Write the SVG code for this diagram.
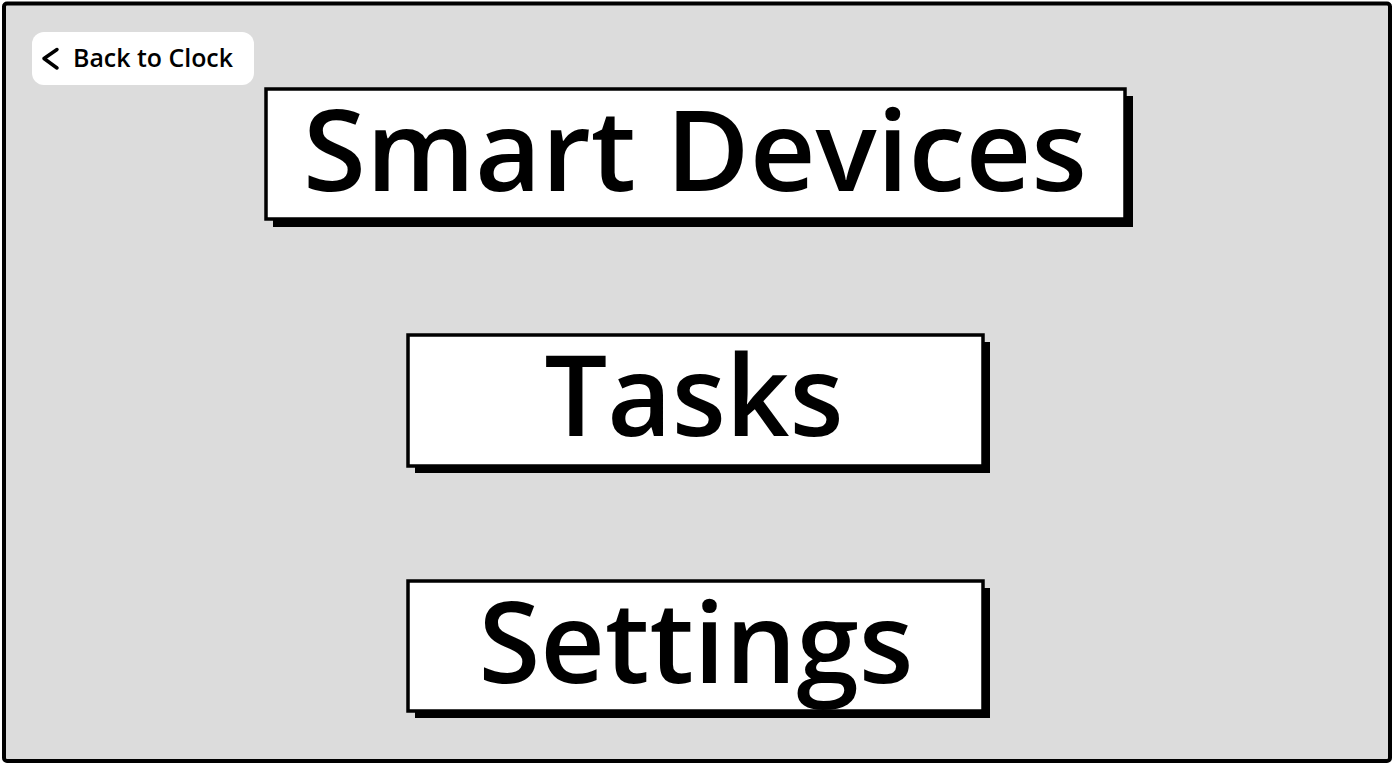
<svg xmlns="http://www.w3.org/2000/svg" width="1394" height="766" viewBox="0 0 1394 766">
<style>
.btn{fill:#ffffff;stroke:#000000;stroke-width:3.5}
.shadow{fill:#000000}
.big{font-family:"Open Sans","Lato","Liberation Sans",sans-serif;font-size:112px;font-weight:600;fill:#000000;text-anchor:middle}
.small{font-family:"Open Sans","Lato","Liberation Sans",sans-serif;font-size:25px;font-weight:600;fill:#000000}
</style>
<rect id="frame" x="4" y="3.5" width="1386" height="757.5" rx="3" fill="#dcdcdc" stroke="#000000" stroke-width="4"/>
<g id="back-to-clock">
<rect x="32" y="32" width="222" height="53" rx="12" fill="#ffffff"/>
<polyline points="57,49.5 44,58.5 57,68" fill="none" stroke="#000000" stroke-width="3.5" stroke-linecap="round" stroke-linejoin="round"/>
<text class="small" x="73" y="67" textLength="160" lengthAdjust="spacingAndGlyphs">Back to Clock</text>
</g>
<g id="smart-devices">
<rect class="shadow" x="273" y="96" width="860" height="131"/>
<rect class="btn" x="266" y="89" width="859" height="130"/>
<text class="big" x="695" y="191" textLength="784" lengthAdjust="spacingAndGlyphs">Smart Devices</text>
</g>
<g id="tasks">
<rect class="shadow" x="415" y="342" width="575" height="131"/>
<rect class="btn" x="408" y="335" width="575" height="131"/>
<text class="big" x="694" y="436" textLength="299" lengthAdjust="spacingAndGlyphs">Tasks</text>
</g>
<g id="settings">
<rect class="shadow" x="415" y="588" width="575" height="130"/>
<rect class="btn" x="408" y="581" width="575" height="130"/>
<text class="big" x="696" y="683" textLength="435" lengthAdjust="spacingAndGlyphs">Settings</text>
</g>
<g id="connectors"/>
</svg>
